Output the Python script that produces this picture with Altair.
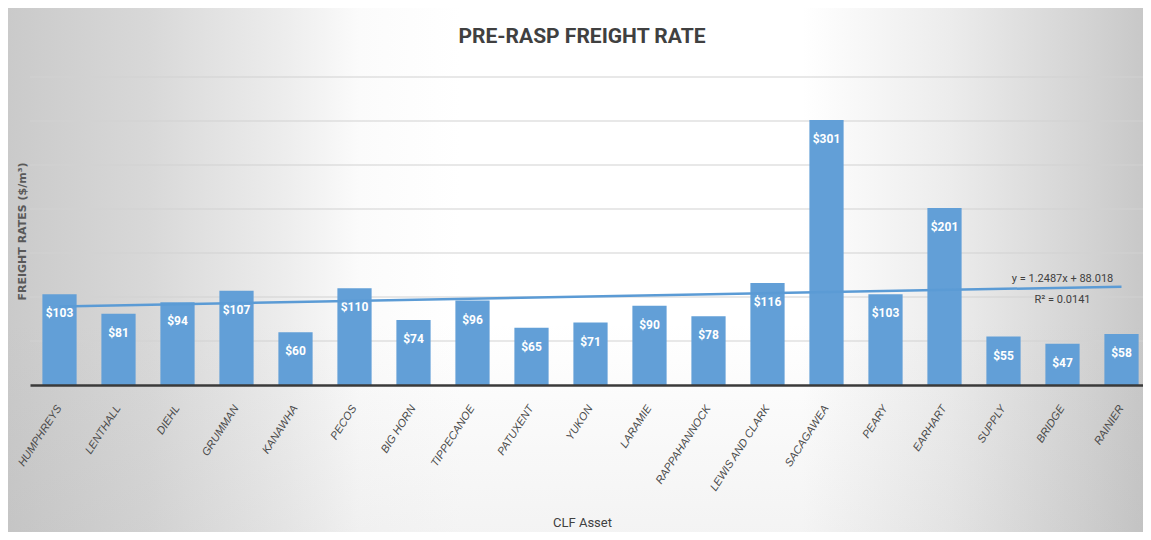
import altair as alt
import pandas as pd

categories = ["HUMPHREYS", "LENTHALL", "DIEHL", "GRUMMAN", "KANAWHA", "PECOS",
              "BIG HORN", "TIPPECANOE", "PATUXENT", "YUKON", "LARAMIE",
              "RAPPAHANNOCK", "LEWIS AND CLARK", "SACAGAWEA", "PEARY",
              "EARHART", "SUPPLY", "BRIDGE", "RAINIER"]
rates = [103, 81, 94, 107, 60, 110, 74, 96, 65, 71, 90, 78, 116, 301, 103,
         201, 55, 47, 58]
grid_values = [50, 100, 150, 200, 250, 300, 350]

trend_slope = 1.2487
trend_intercept = 88.018
trend_text = ["y = 1.2487x + 88.018", "R\u00b2 = 0.0141"]
trend_text_pos = [120, 97]

W, H = 1113, 308
X_RANGE = 1121
PAD_L, PAD_T, PAD_R, PAD_B = 22, 69, 0, 147

df = pd.DataFrame({"asset": categories, "rate": rates,
                   "label": ["$" + str(v) for v in rates]})
trend_df = pd.DataFrame({
    "asset": [categories[0], categories[-1]],
    "rate": [trend_slope * 1 + trend_intercept,
             trend_slope * len(categories) + trend_intercept],
})
ann_df = pd.DataFrame({"asset": ["BRIDGE", "BRIDGE"], "rate": trend_text_pos,
                       "text": trend_text})
grid_df = pd.DataFrame({"rate": grid_values})
one_df = pd.DataFrame({"k": [0]})

x_scale = alt.Scale(domain=categories, range=[0, X_RANGE],
                    paddingInner=0.42, paddingOuter=0.21)
y_scale = alt.Scale(domain=[0, 350], nice=False)

bg = alt.Chart(one_df).mark_rect(
    fill=alt.Gradient(
        gradient="linear", x1=0, x2=1, y1=0, y2=0,
        stops=[
            alt.GradientStop(color="#cacaca", offset=0),
            alt.GradientStop(color="#d8d8d8", offset=0.124),
            alt.GradientStop(color="#eeeeee", offset=0.25),
            alt.GradientStop(color="#fbfbfb", offset=0.31),
            alt.GradientStop(color="#ffffff", offset=0.4),
            alt.GradientStop(color="#ffffff", offset=0.70),
            alt.GradientStop(color="#ececec", offset=0.83),
            alt.GradientStop(color="#d2d2d2", offset=0.956),
            alt.GradientStop(color="#c8c8c8", offset=1),
        ],
    )
).encode(
    x=alt.value(-PAD_L), x2=alt.value(W + PAD_R),
    y=alt.value(-PAD_T), y2=alt.value(H + PAD_B),
)

bg2 = alt.Chart(one_df).mark_rect(
    fill=alt.Gradient(
        gradient="linear", x1=0, x2=0, y1=0, y2=1,
        stops=[
            alt.GradientStop(color="rgba(160,160,160,0)", offset=0),
            alt.GradientStop(color="rgba(160,160,160,0)", offset=0.6),
            alt.GradientStop(color="rgba(160,160,160,0.12)", offset=1),
        ],
    )
).encode(
    x=alt.value(-PAD_L), x2=alt.value(W + PAD_R),
    y=alt.value(-PAD_T), y2=alt.value(H + PAD_B),
)

grid = alt.Chart(grid_df).mark_rule(color="#d2d2d2", strokeWidth=1.2).encode(
    y=alt.Y("rate:Q", scale=y_scale),
)

bars = alt.Chart(df).mark_bar(color="#629fd7").encode(
    x=alt.X("asset:N", scale=x_scale, sort=categories,
            axis=alt.Axis(title="CLF Asset", labelAngle=-57, labelFontStyle="italic",
                          labelFont="Liberation Sans", labelFontSize=11,
                          labelColor="#4a4a4a", labelPadding=21, ticks=False,
                          domainColor="#3a3a3a", domainWidth=2.5, zindex=1,
                          titleFont="Roboto", titleFontSize=13,
                          titleFontWeight="normal", titleColor="#404040",
                          titleX=552, titleY=137, titleBaseline="middle",
                          titleAlign="center")),
    y=alt.Y("rate:Q", scale=y_scale,
            axis=alt.Axis(title="FREIGHT RATES ($/m\u00b3)", labels=False, ticks=False,
                          domain=False, grid=False, zindex=1,
                          titleFont="DejaVu Sans", titleFontSize=11,
                          titleFontWeight="bold", titleColor="#595959",
                          titlePadding=3)),
)

labels = alt.Chart(df).mark_text(
    color="white", font="Roboto", fontWeight="bold",
    fontSize=12, baseline="middle", dy=19,
).encode(
    x=alt.X("asset:N", scale=x_scale, sort=categories),
    y=alt.Y("rate:Q", scale=y_scale),
    text="label:N",
)

trend = alt.Chart(trend_df).mark_line(color="#5b9bd5", strokeWidth=2.5).encode(
    x=alt.X("asset:N", scale=x_scale, sort=categories),
    y=alt.Y("rate:Q", scale=y_scale),
)

ann = alt.Chart(ann_df).mark_text(
    color="#404040", font="Roboto", fontSize=11,
    baseline="middle", align="center",
).encode(
    x=alt.X("asset:N", scale=x_scale, sort=categories),
    y=alt.Y("rate:Q", scale=y_scale),
    text="text:N",
)

title = alt.Chart(one_df).mark_text(
    text="PRE-RASP FREIGHT RATE", font="Roboto", fontSize=21,
    fontWeight="bold", color="#404040", align="center", baseline="alphabetic",
).encode(x=alt.value(552), y=alt.value(-34))

chart = alt.layer(bg, bg2, grid, bars, labels, trend, ann, title).properties(
    width=W, height=H,
    autosize=alt.AutoSizeParams(type="none"),
    padding={"left": PAD_L, "top": PAD_T, "right": PAD_R, "bottom": PAD_B},
).configure_view(stroke=None).configure(background="#ffffff")

chart.save("out.html", embed_options={"renderer": "svg", "actions": False})
